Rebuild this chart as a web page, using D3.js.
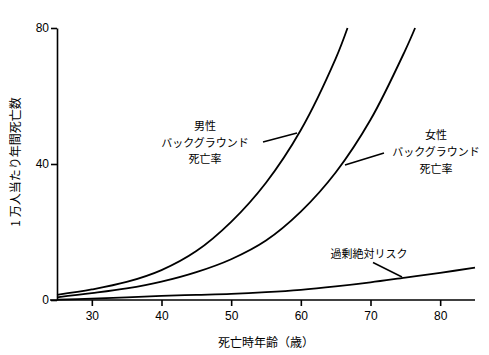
<!DOCTYPE html>
<html>
<head>
<meta charset="utf-8">
<script src="https://cdn.jsdelivr.net/npm/d3@7"></script>
<style>
  html, body { margin: 0; padding: 0; background: #fff; }
  svg { display: block; }
  .num { font-family: "Liberation Sans", Arial, sans-serif; font-size: 12px; fill: #000; }
  .jp { font-family: "Noto Sans CJK JP", sans-serif; font-size: 11px; fill: #000; }
</style>
</head>
<body>
<svg id="chart" width="489" height="355"></svg>
<script>
// ---- data ----
const maleAges   = [25, 30, 35, 40, 45, 50, 55, 60, 65, 66.7];
const maleVals   = [1.5, 3.1, 5.3, 8.8, 14.4, 23, 34.5, 50, 71, 80];
const femaleAges = [25, 30, 35, 40, 45, 50, 55, 60, 65, 70, 75, 76.4];
const femaleVals = [0.8, 2.0, 3.4, 5.4, 8.2, 12, 17.5, 26, 37.5, 53, 73.5, 80];
const excessAges = [25, 30, 35, 40, 45, 50, 55, 60, 65, 70, 75, 80, 85];
const excessVals = [0.1, 0.4, 0.8, 1.2, 1.5, 1.8, 2.3, 3.0, 4.0, 5.2, 6.6, 8.0, 9.5];
const xTicks = [30, 40, 50, 60, 70, 80];
const yTicks = [0, 40, 80];
const xTitle = "死亡時年齢（歳）";
const yTitle = "1 万人当たり年間死亡数";
const maleLabel = ["男性", "バックグラウンド", "死亡率"];
const femaleLabel = ["女性", "バックグラウンド", "死亡率"];
const excessLabel = "過剰絶対リスク";

// ---- layout ----
const svg = d3.select("#chart");
const x = d3.scaleLinear().domain([25, 85]).range([57, 475]);
const y = d3.scaleLinear().domain([0, 80]).range([300, 28]);

// axes
const gx = svg.append("g").attr("transform", `translate(0,${y(0)})`)
  .call(d3.axisBottom(x).tickValues(xTicks).tickSize(6).tickSizeOuter(0).tickPadding(5));
const gy = svg.append("g").attr("transform", `translate(${x(25)},0)`)
  .call(d3.axisLeft(y).tickValues(yTicks).tickSize(6).tickSizeOuter(0).tickPadding(2));
[gx, gy].forEach(g => {
  g.selectAll("path, line").attr("stroke", "#000").attr("stroke-width", 1.6);
  g.selectAll("text").attr("class", "num").attr("font-family", null).attr("font-size", null);
});
gx.select(".domain").attr("d", `M${x(25)-7},0H${x(85)}`);

// titles
svg.append("text").attr("class", "jp").attr("x", 266).attr("y", 347)
  .attr("text-anchor", "middle").style("font-size", "12px").text(xTitle);
svg.append("text").attr("class", "jp")
  .attr("transform", `translate(20,162) rotate(-90)`)
  .attr("text-anchor", "middle").style("font-size", "12px").text(yTitle);

// curves
const line = d3.line().x(d => x(d[0])).y(d => y(d[1])).curve(d3.curveCatmullRom.alpha(0.5));
const series = [
  d3.zip(maleAges, maleVals),
  d3.zip(femaleAges, femaleVals),
  d3.zip(excessAges, excessVals)
];
svg.append("g").selectAll("path").data(series).join("path")
  .attr("d", line).attr("fill", "none").attr("stroke", "#000")
  .attr("stroke-width", 1.8);

// labels
function block(lines, cx, y0, dy) {
  svg.append("g").selectAll("text").data(lines).join("text")
    .attr("class", "jp").attr("x", cx).attr("y", (d, i) => y0 + i * dy)
    .attr("text-anchor", "middle").text(d => d);
}
block(maleLabel, 205, 130, 16.5);
block(femaleLabel, 436, 139, 17);
svg.append("text").attr("class", "jp").attr("x", 369).attr("y", 258)
  .attr("text-anchor", "middle").text(excessLabel);

// pointers
const pointers = [
  [[263, 142], [297, 133]],
  [[384, 153], [345, 165]],
  [[373, 262.5], [402, 277]]
];
svg.append("g").selectAll("line").data(pointers).join("line")
  .attr("x1", d => d[0][0]).attr("y1", d => d[0][1])
  .attr("x2", d => d[1][0]).attr("y2", d => d[1][1])
  .attr("stroke", "#000").attr("stroke-width", 1.5);
</script>
</body>
</html>
